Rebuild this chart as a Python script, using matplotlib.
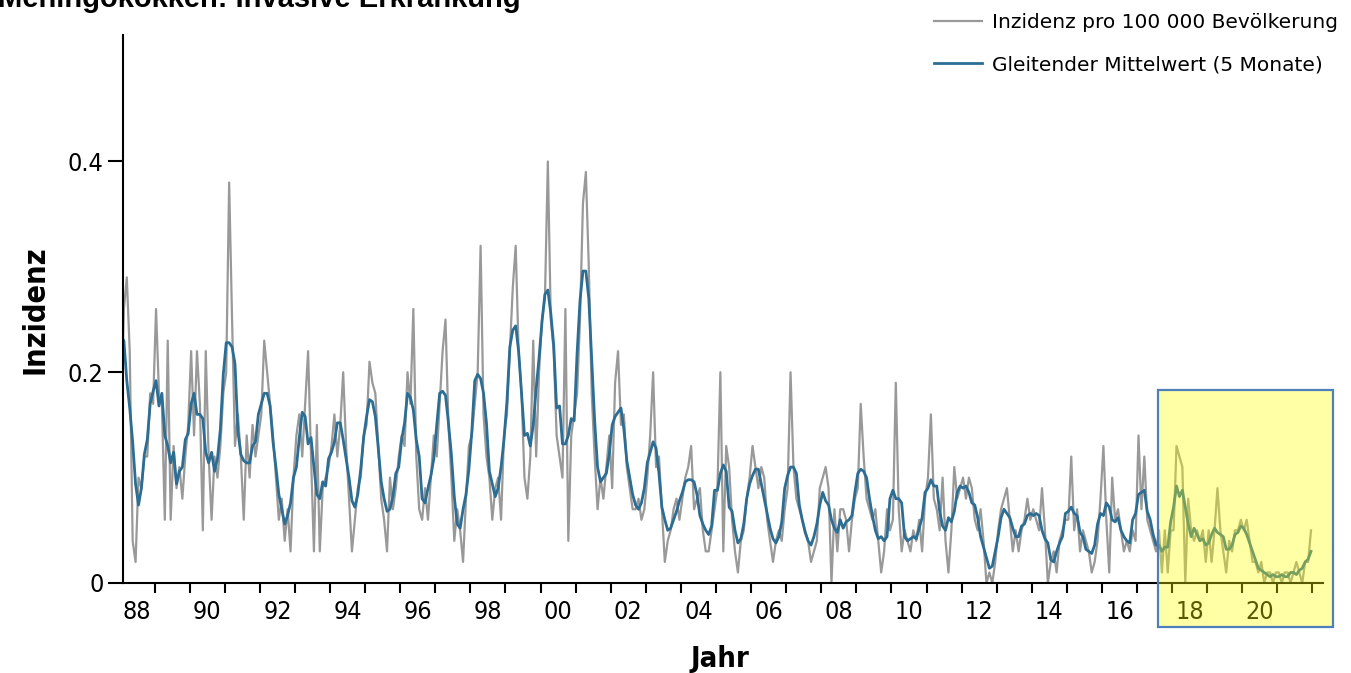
import numpy as np
import pandas as pd
import matplotlib
matplotlib.use('Agg')
import matplotlib.pyplot as plt
from matplotlib.patches import Rectangle
from matplotlib import font_manager as fm

# monthly incidence per 100 000, Jan 1988 .. Dec 2021
incidence = [
    0.15, 0.26, 0.29, 0.22, 0.04, 0.02, 0.10, 0.09, 0.12, 0.12, 0.18, 0.17,  # 1988
    0.26, 0.18, 0.17, 0.06, 0.23, 0.06, 0.13, 0.09, 0.11, 0.08, 0.12, 0.15,  # 1989
    0.22, 0.14, 0.22, 0.17, 0.05, 0.22, 0.12, 0.06, 0.12, 0.10, 0.13, 0.18,  # 1990
    0.20, 0.38, 0.25, 0.13, 0.16, 0.12, 0.06, 0.14, 0.10, 0.15, 0.12, 0.14,  # 1991
    0.16, 0.23, 0.20, 0.17, 0.14, 0.10, 0.06, 0.08, 0.04, 0.07, 0.03, 0.10,  # 1992
    0.14, 0.16, 0.12, 0.17, 0.22, 0.12, 0.03, 0.15, 0.03, 0.09, 0.10, 0.11,  # 1993
    0.13, 0.16, 0.12, 0.15, 0.20, 0.13, 0.08, 0.03, 0.06, 0.09, 0.10, 0.14,  # 1994
    0.15, 0.21, 0.19, 0.18, 0.13, 0.08, 0.06, 0.03, 0.10, 0.07, 0.09, 0.12,  # 1995
    0.14, 0.13, 0.20, 0.17, 0.26, 0.12, 0.07, 0.06, 0.09, 0.06, 0.10, 0.14,  # 1996
    0.12, 0.17, 0.22, 0.25, 0.15, 0.10, 0.04, 0.07, 0.05, 0.02, 0.08, 0.13,  # 1997
    0.14, 0.17, 0.20, 0.32, 0.16, 0.12, 0.10, 0.06, 0.09, 0.10, 0.06, 0.14,  # 1998
    0.16, 0.22, 0.28, 0.32, 0.22, 0.18, 0.10, 0.08, 0.12, 0.23, 0.12, 0.20,  # 1999
    0.25, 0.27, 0.40, 0.25, 0.22, 0.14, 0.12, 0.10, 0.26, 0.04, 0.14, 0.16,  # 2000
    0.18, 0.25, 0.36, 0.39, 0.30, 0.18, 0.12, 0.07, 0.10, 0.08, 0.11, 0.14,  # 2001
    0.09, 0.19, 0.22, 0.15, 0.16, 0.11, 0.09, 0.07, 0.07, 0.08, 0.06, 0.07,  # 2002
    0.10, 0.14, 0.20, 0.11, 0.12, 0.07, 0.02, 0.04, 0.05, 0.07, 0.08, 0.06,  # 2003
    0.08, 0.10, 0.11, 0.13, 0.07, 0.08, 0.09, 0.05, 0.03, 0.03, 0.05, 0.07,  # 2004
    0.09, 0.20, 0.03, 0.13, 0.11, 0.06, 0.03, 0.01, 0.04, 0.05, 0.08, 0.10,  # 2005
    0.13, 0.11, 0.09, 0.11, 0.10, 0.06, 0.04, 0.02, 0.04, 0.05, 0.04, 0.07,  # 2006
    0.09, 0.20, 0.11, 0.08, 0.07, 0.06, 0.05, 0.04, 0.02, 0.03, 0.04, 0.09,  # 2007
    0.10, 0.11, 0.09, 0.00, 0.07, 0.03, 0.07, 0.07, 0.06, 0.03, 0.06, 0.08,  # 2008
    0.09, 0.17, 0.12, 0.08, 0.07, 0.06, 0.07, 0.04, 0.01, 0.03, 0.07, 0.05,  # 2009
    0.06, 0.19, 0.07, 0.03, 0.05, 0.04, 0.03, 0.05, 0.04, 0.06, 0.03, 0.08,  # 2010
    0.10, 0.16, 0.08, 0.07, 0.05, 0.10, 0.04, 0.01, 0.05, 0.11, 0.08, 0.09,  # 2011
    0.10, 0.08, 0.10, 0.09, 0.06, 0.05, 0.07, 0.04, 0.00, 0.01, 0.00, 0.02,  # 2012
    0.05, 0.07, 0.08, 0.09, 0.06, 0.03, 0.05, 0.03, 0.05, 0.06, 0.08, 0.06,  # 2013
    0.07, 0.06, 0.05, 0.09, 0.05, 0.00, 0.02, 0.03, 0.01, 0.04, 0.05, 0.06,  # 2014
    0.06, 0.12, 0.05, 0.07, 0.03, 0.05, 0.04, 0.03, 0.01, 0.02, 0.04, 0.08,  # 2015
    0.13, 0.06, 0.01, 0.10, 0.06, 0.07, 0.05, 0.03, 0.04, 0.03, 0.05, 0.04,  # 2016
    0.14, 0.07, 0.12, 0.06, 0.05, 0.04, 0.03, 0.05, 0.01, 0.05, 0.01, 0.05,  # 2017
    0.05, 0.13, 0.12, 0.11, 0.00, 0.08, 0.05, 0.04, 0.05, 0.04, 0.05, 0.02,  # 2018
    0.05, 0.02, 0.05, 0.09, 0.05, 0.03, 0.01, 0.04, 0.03, 0.05, 0.05, 0.06,  # 2019
    0.05, 0.06, 0.04, 0.02, 0.02, 0.01, 0.02, 0.00, 0.01, 0.01, 0.00, 0.01,  # 2020
    0.01, 0.00, 0.01, 0.01, 0.00, 0.01, 0.02, 0.01, 0.00, 0.02, 0.02, 0.05,  # 2021
]
start_year = 1988
year_ticks = list(range(1989, 2023))
label_years = list(range(1988, 2021, 2))
year_labels = ['88', '90', '92', '94', '96', '98', '00', '02', '04',
               '06', '08', '10', '12', '14', '16', '18', '20']
y_ticks = [0, 0.2, 0.4]
y_labels = ['0', '0.2', '0.4']


def pick_narrow():
    # use a condensed face if the system has one, else plain Liberation Sans
    try:
        fm.findfont(fm.FontProperties(family='Liberation Sans Narrow'), fallback_to_default=False)
        return {'family': 'Liberation Sans Narrow'}
    except Exception:
        pass
    path = fm.findfont(fm.FontProperties(family='DejaVu Sans', stretch='condensed'))
    if 'Condensed' in path:
        return {'family': 'DejaVu Sans', 'stretch': 'condensed'}
    return {'family': 'Liberation Sans'}


narrow = pick_narrow()

x = start_year + (np.arange(len(incidence)) + 0.5) / 12
smooth = pd.Series(incidence).rolling(5, center=True, min_periods=1).mean()

W, H = 1351, 673
fig = plt.figure(figsize=(W / 100, H / 100), dpi=100)
ax = fig.add_axes([123 / W, (H - 583) / H, 1200 / W, (583 - 35) / H])

ax.plot(x, incidence, color='#999999', lw=1.6, label='Inzidenz pro 100 000 Bevölkerung')
ax.plot(x, smooth, color='#2c6d93', lw=2.0, label='Gleitender Mittelwert (5 Monate)')

ax.set_xlim(1988.1, 2022.3)
ax.set_ylim(0, 0.52)
for s in ['top', 'right']:
    ax.spines[s].set_visible(False)
for s in ['left', 'bottom']:
    ax.spines[s].set_linewidth(1.5)

ax.set_xticks(year_ticks)
ax.set_xticklabels([])
ax.set_xticks([y + 0.5 for y in label_years], minor=True)
ax.set_xticklabels(year_labels, minor=True, fontsize=18, **narrow)
ax.tick_params(axis='x', which='major', length=7, width=1.5)
ax.tick_params(axis='x', which='minor', length=0, pad=12)
ax.set_yticks(y_ticks)
ax.set_yticklabels(y_labels, fontsize=18, **narrow)
ax.tick_params(axis='y', length=11, width=1.5, pad=3)

fig.text(35 / W, 1 - 310 / H, 'Inzidenz', rotation=90, ha='center', va='center',
         fontweight='bold', fontsize=22, **narrow)
fig.text(720 / W, 1 - 659 / H, 'Jahr', ha='center', va='center',
         fontweight='bold', fontsize=21, **narrow)
fig.text(-2 / W, 1 - 7 / H, 'Meningokokken: Invasive Erkrankung', ha='left', va='baseline',
         family=['Liberation Sans', 'DejaVu Sans'], fontweight='bold', fontsize=21)

fig.legend(loc='upper right', bbox_to_anchor=(1.0, 1.0), frameon=False,
           prop={'family': 'DejaVu Sans', 'size': 14.5},
           handlelength=2.4, handletextpad=0.5, labelspacing=1.15, borderaxespad=0.25)

# highlighted recent period
bx, by, bw, bh = 1158 / W, (H - 627) / H, 175 / W, 237 / H
fig.add_artist(Rectangle((bx, by), bw, bh, transform=fig.transFigure,
                         facecolor='#ffff00', alpha=0.35, edgecolor='none', zorder=10))
fig.add_artist(Rectangle((bx, by), bw, bh, transform=fig.transFigure,
                         facecolor='none', edgecolor='#4f7fba', lw=1.6, zorder=11))

fig.savefig('out.png', dpi=100)
